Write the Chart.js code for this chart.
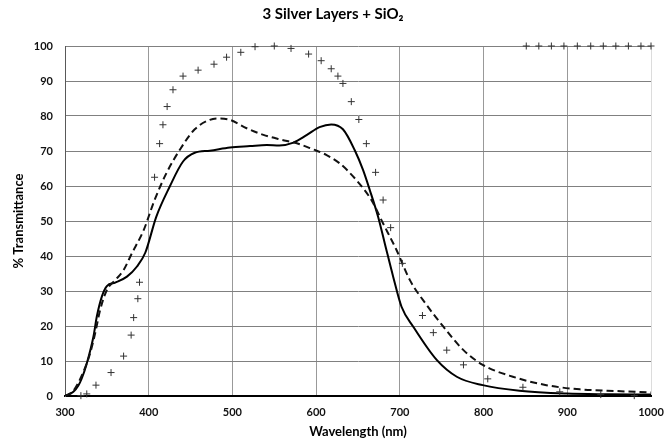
<!DOCTYPE html>
<html>
<head>
<meta charset="utf-8">
<script src="https://cdn.jsdelivr.net/npm/chart.js@4"></script>
<style>
  body { margin: 0; background: #fff; }
  #wrap { width: 666px; height: 443px; }
</style>
</head>
<body>
<div id="wrap"><canvas id="chart" width="666" height="443"></canvas></div>
<script>
// solid curve
const solidWl = [300, 310, 316, 320, 326, 334, 338, 344, 350, 360, 374, 386, 396, 409, 425, 441, 455, 473, 497, 521, 541, 556, 573, 589, 604, 618, 632, 646, 656, 664, 674, 682, 692, 702, 716, 744, 768, 799, 843, 899, 950, 1000];
const solidT = [0, 1.2, 3, 5, 9.3, 17, 22.7, 28.4, 31.4, 32.4, 34.1, 37, 41, 51.2, 59.8, 67, 69.5, 70.1, 71, 71.4, 71.7, 71.6, 72.4, 74.6, 76.8, 77.6, 76.2, 70.3, 64.6, 58.9, 51.2, 43.6, 34.1, 25.5, 19.8, 10.3, 5.5, 3.1, 1.5, 0.7, 0.5, 0.4];

// dashed curve
const dashWl = [300, 310, 322, 330, 336, 342, 350, 360, 370, 380, 394, 407, 421, 437, 455, 473, 485, 497, 517, 537, 557, 577, 596, 612, 628, 648, 666, 680, 696, 712, 732, 752, 776, 799, 835, 875, 915, 960, 1000];
const dashT = [0, 1.5, 6.9, 12.2, 17.9, 24.6, 30.3, 33.1, 36, 40.8, 47.4, 56, 63.6, 70.3, 76.2, 78.9, 79.3, 78.9, 76.5, 74.6, 73.3, 72.2, 70.5, 68.9, 66.5, 61.7, 56, 49.3, 41.7, 33.1, 26, 19.8, 13.1, 8.9, 5.5, 3.1, 1.9, 1.4, 1.0];

// "+" markers
const plusWl = [319, 326, 337, 355, 370, 379, 382, 387, 389, 407, 413, 417, 422, 429, 441, 459, 478, 493, 510, 527, 550, 570, 591, 606, 618, 626, 632, 642, 651, 660, 671, 680, 689, 703, 727, 740, 756, 776, 805, 847, 891, 940, 980,
  851, 866, 881, 896, 912, 928, 943, 958, 973, 988, 1000];
const plusT = [0.1, 0.6, 3.1, 6.7, 11.4, 17.4, 22.4, 27.8, 32.5, 62.5, 72.1, 77.5, 82.7, 87.5, 91.4, 93.1, 94.8, 96.8, 98.2, 99.8, 100, 99.3, 97.7, 95.8, 93.5, 91.4, 89.3, 84.1, 79, 72.1, 63.9, 56, 48.1, 37.9, 23, 18.1, 13.1, 8.9, 4.9, 2.5, 1.2, 0.4, 0.1,
  100, 100, 100, 100, 100, 100, 100, 100, 100, 100, 100];

const xTicks = [300, 400, 500, 600, 700, 800, 900, 1000];
const yTicks = [0, 10, 20, 30, 40, 50, 60, 70, 80, 90, 100];

const pts = (xs, ys) => xs.map((x, i) => ({ x, y: ys[i] }));
const FONT = 'Lato, "Open Sans", sans-serif';

new Chart(document.getElementById('chart'), {
  type: 'scatter',
  data: {
    datasets: [
      { label: 'markers', data: pts(plusWl, plusT), showLine: false, pointStyle: 'cross', pointRadius: 3.5,
        borderColor: '#333', borderWidth: 1, clip: false },
      { label: 'dashed', data: pts(dashWl, dashT), showLine: true, borderColor: '#111', borderWidth: 2,
        borderDash: [7, 4], pointRadius: 0, cubicInterpolationMode: 'monotone' },
      { label: 'solid', data: pts(solidWl, solidT), showLine: true, borderColor: '#000', borderWidth: 2,
        pointRadius: 0, cubicInterpolationMode: 'monotone' },
    ],
  },
  options: {
    responsive: false,
    animation: false,
    layout: { padding: 0 },
    plugins: {
      legend: { display: false },
      tooltip: { enabled: false },
      title: {
        display: true,
        text: '3 Silver Layers + SiO₂',
        color: '#000',
        font: { family: FONT, size: 15, weight: 'bold' },
        padding: { top: 5, bottom: 23 },
      },
    },
    scales: {
      x: {
        type: 'linear', min: 300, max: 1000,
        afterBuildTicks: s => { s.ticks = xTicks.map(v => ({ value: v })); },
        afterFit: s => { s.height = 47; s.paddingLeft = 0; s.paddingRight = 15; },
        grid: { color: c => (c.tick && c.tick.value === 1000 ? '#dcdcdc' : '#999'), lineWidth: 1, drawTicks: false },
        border: { color: '#000', width: 2 },
        ticks: { color: '#111', padding: 10, callback: v => String(v), font: { family: FONT, size: 11, weight: 'bold' } },
        title: { display: true, text: 'Wavelength (nm)', color: '#000', padding: { top: 0, bottom: 3 },
          font: { family: FONT, size: 13, weight: 'bold' } },
      },
      y: {
        min: 0, max: 100,
        afterBuildTicks: s => { s.ticks = yTicks.map(v => ({ value: v })); },
        afterFit: s => { s.width = 65; },
        grid: { color: '#808080', lineWidth: 1, drawTicks: false },
        border: { color: '#595959', width: 1 },
        ticks: { color: '#111', padding: 12, font: { family: FONT, size: 11, weight: 'bold' } },
        title: { display: true, text: '% Transmittance', color: '#000', padding: { top: 11, bottom: 0 },
          font: { family: FONT, size: 13, weight: 'bold' } },
      },
    },
  },
});
</script>
</body>
</html>
